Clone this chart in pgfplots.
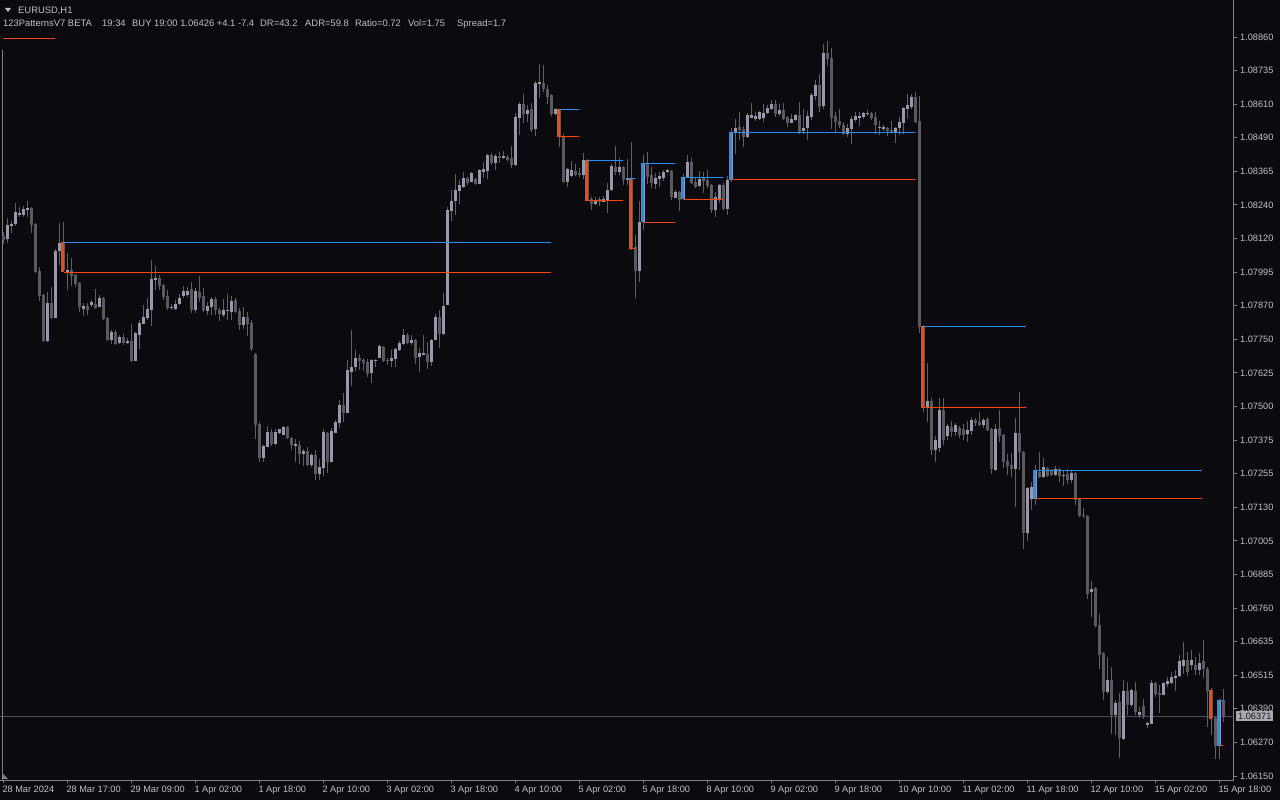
\documentclass[border=0pt]{standalone}
\usepackage{fontspec}
\setmainfont{Liberation Sans}
\usepackage{pgfplots}
\usepackage{pgfplotstable}
\pgfplotsset{compat=1.18}
\definecolor{bg}{RGB}{10,10,15}
\definecolor{axcol}{RGB}{128,128,136}
\definecolor{txt}{RGB}{192,192,198}
\definecolor{pline}{RGB}{78,78,84}
\definecolor{bullc}{RGB}{152,152,168}
\definecolor{bearc}{RGB}{90,90,94}
\definecolor{wickc}{RGB}{96,96,102}
\definecolor{ored}{RGB}{255,69,0}
\definecolor{dblue}{RGB}{30,144,255}
\definecolor{boxc}{RGB}{168,168,174}
\definecolor{boxt}{RGB}{28,28,34}

% candles: i = bar index, o h l c = screen rows (row 776 = 1.06150, 33.59 rows per 0.0012318)
\pgfplotstableread{
i o h l c
1 239 218 243 225
2 226 221 233 224
3 224 203 226 212
4 215 207 217 213
5 215 206 217 209
6 210 201 217 208
11 341 292 342 303
13 318 249 318 251
14 251 223 265 243
16 273 253 290 270
20 309 303 316 306
22 305 300 307 302
24 307 295 307 298
27 340 330 344 332
29 343 335 344 337
31 343 338 344 341
33 361 332 361 333
34 335 320 349 323
35 324 305 324 317
36 318 298 320 309
37 310 260 326 279
38 280 266 290 278
42 308 304 310 307
43 309 300 310 304
44 304 294 305 298
45 296 286 298 291
46 295 287 297 291
48 310 288 313 291
51 311 302 315 306
52 307 297 315 299
55 315 299 317 310
56 311 294 320 310
57 312 296 320 301
60 325 307 329 317
65 458 445 462 446
66 447 426 447 432
68 444 429 445 432
69 433 429 434 429
70 435 426 435 427
73 446 439 462 444
75 454 449 466 451
77 465 453 467 455
79 474 459 480 467
80 468 429 476 432
82 462 428 462 431
83 433 420 433 422
84 423 400 428 405
86 413 360 413 370
87 372 330 386 367
88 367 350 371 358
92 373 359 383 360
93 361 359 367 360
94 358 345 358 346
97 361 350 367 358
98 359 348 367 349
99 350 341 351 343
100 344 329 345 335
102 343 335 345 340
104 357 348 372 353
105 355 335 355 353
107 362 339 366 340
108 340 314 340 317
110 334 293 335 306
111 305 207 305 210
112 211 190 221 201
113 201 174 215 190
114 191 180 204 185
115 187 172 188 178
117 182 172 182 173
119 184 169 184 170
120 172 162 178 169
121 171 154 179 155
123 163 154 170 156
125 158 151 159 156
128 165 113 166 117
129 118 102 135 104
131 114 105 122 110
133 129 81 136 83
134 84 64 98 82
138 114 108 115 109
141 182 168 187 169
142 176 161 177 170
145 175 153 179 160
148 204 197 205 200
150 202 196 202 199
151 200 183 213 190
152 190 164 191 166
154 172 158 175 167
156 180 159 185 178
159 271 201 282 222
160 222 155 230 163
163 184 173 189 178
164 179 172 187 176
165 178 170 181 172
166 172 169 173 170
168 198 190 198 192
170 199 174 200 177
171 177 155 178 162
174 186 171 187 179
178 210 192 217 197
179 200 184 203 185
181 209 176 215 180
182 180 128 182 132
183 132 119 154 128
186 137 113 138 115
187 118 103 118 115
188 119 112 121 116
189 119 111 120 112
190 118 104 122 113
191 113 105 114 108
192 109 100 110 104
194 114 104 116 110
197 123 114 123 119
198 120 114 121 115
200 131 109 134 128
201 128 111 140 116
202 117 93 120 95
203 96 80 100 85
205 106 44 109 53
211 134 124 137 128
212 129 116 144 119
213 120 112 122 116
214 118 112 126 116
215 117 112 119 113
216 114 110 116 113
219 128 121 135 127
220 129 125 131 127
223 132 127 143 128
224 128 117 135 122
225 123 107 134 108
226 109 94 119 105
227 107 94 109 97
231 408 363 422 401
233 450 436 462 440
234 448 398 452 410
236 436 424 440 426
238 432 423 436 425
241 434 421 442 430
242 431 417 435 420
245 425 418 428 420
248 470 424 471 429
253 469 418 507 433
256 533 487 541 488
257 499 482 510 487
258 499 465 505 470
260 477 458 478 467
263 475 466 476 469
265 476 471 486 475
267 480 471 483 473
272 592 581 617 589
276 692 657 694 680
278 715 700 735 703
280 739 680 740 691
282 705 689 707 690
284 715 707 718 712
286 725 722 728 723
287 724 680 724 683
290 695 682 695 683
291 684 677 687 681
292 683 672 684 677
293 678 670 691 676
294 676 655 677 661
295 666 642 674 660
297 665 650 670 660
299 670 653 675 663
304 745 699 759 700
}\bulltab

\pgfplotstableread{
i o h l c
0 236 232 244 240
7 208 207 233 225
8 224 223 273 272
9 271 267 301 296
10 295 294 342 341
12 303 287 319 318
15 243 222 272 270
17 270 258 286 276
18 275 274 287 284
19 283 282 312 307
21 306 303 315 310
23 304 289 309 308
25 298 297 320 319
26 318 317 341 340
28 332 330 345 344
30 337 334 345 343
32 341 324 362 361
39 278 275 290 286
40 285 284 300 297
41 296 290 310 308
47 289 282 313 310
49 292 276 302 298
50 296 288 312 310
53 299 297 315 310
54 310 308 321 314
58 300 298 313 312
59 311 308 330 325
61 317 312 336 324
62 323 320 351 349
63 354 353 439 425
64 424 422 462 458
67 432 429 446 444
71 427 426 439 438
72 438 437 450 445
74 445 441 464 454
76 451 447 466 465
78 455 450 480 474
81 433 432 473 462
85 405 393 422 413
89 358 354 370 361
90 360 358 371 363
91 362 359 377 374
95 347 346 362 361
96 360 358 365 361
101 335 333 344 343
103 340 339 364 358
106 354 342 369 362
109 317 310 348 334
116 178 177 185 183
118 179 178 185 184
122 155 153 165 163
124 156 152 163 158
126 157 155 162 160
127 158 146 168 165
130 104 94 123 114
132 109 103 132 130
135 83 65 92 89
136 89 85 104 97
137 95 94 116 114
139 110 109 147 136
140 137 134 183 182
143 171 164 176 175
144 173 168 177 175
146 160 159 201 200
147 199 197 210 204
149 199 197 206 202
153 167 146 175 172
155 167 166 185 180
157 178 142 250 248
158 247 235 298 271
161 164 152 184 177
162 175 167 188 183
167 171 170 200 197
169 192 191 211 200
172 162 158 184 183
173 182 177 188 187
175 178 172 193 181
176 180 170 188 186
177 185 184 213 210
180 185 183 210 209
184 127 112 140 130
185 129 126 147 137
193 104 100 117 114
195 110 103 120 119
196 117 116 127 123
199 115 102 134 133
204 85 74 112 107
206 53 41 66 59
207 58 48 129 118
208 116 112 132 122
209 121 109 128 125
210 125 122 135 134
217 113 112 120 118
218 117 112 134 125
221 128 127 136 131
222 130 121 133 132
228 97 92 123 122
229 121 96 333 327
230 326 325 412 407
232 401 398 455 450
235 410 398 445 440
237 427 421 437 432
239 428 426 438 435
240 429 424 440 435
243 420 418 426 423
244 422 412 426 425
246 419 417 431 430
247 429 428 474 469
249 428 410 442 436
250 435 434 468 462
251 461 454 475 466
252 465 453 477 469
254 433 392 470 452
255 452 451 549 533
259 472 452 478 477
261 468 467 477 476
262 470 469 476 475
264 469 468 482 476
266 474 469 484 480
268 473 472 505 500
269 499 498 517 516
270 515 508 518 516
271 516 515 599 594
273 588 587 627 626
274 625 614 669 655
275 653 652 700 692
277 680 667 734 715
279 702 693 758 738
281 691 682 715 705
283 691 682 715 712
285 706 699 719 716
288 683 682 697 694
289 693 685 713 695
296 660 652 676 672
298 665 657 675 670
300 661 640 678 669
301 669 667 727 691
302 690 688 735 718
303 718 717 759 746
305 700 689 722 716
}\beartab

\begin{document}
\begin{tikzpicture}[x=1pt,y=1pt]
\useasboundingbox (0,0) rectangle (1280,800);
\fill[bg] (0,0) rectangle (1280,800);
\begin{axis}[
  at={(0pt,20pt)}, anchor=south west,
  width=1234pt, height=780pt, scale only axis,
  xmin=-0.8325, xmax=307.6675,
  ymin=0, ymax=780, y dir=reverse,
  axis x line*=bottom, axis y line*=right,
  axis line style={draw=axcol, line width=1pt},
  tick align=outside, major tick length=3pt,
  tick style={draw=axcol, line width=1pt},
  xtick={0,16,...,304},
  xticklabels={28 Mar 2024,28 Mar 17:00,29 Mar 09:00,1 Apr 02:00,1 Apr 18:00,2 Apr 10:00,3 Apr 02:00,3 Apr 18:00,4 Apr 10:00,5 Apr 02:00,5 Apr 18:00,8 Apr 10:00,9 Apr 02:00,9 Apr 18:00,10 Apr 10:00,11 Apr 02:00,11 Apr 18:00,12 Apr 10:00,15 Apr 02:00,15 Apr 18:00},
  ytick={776,742.41,708.82,675.23,641.64,608.05,574.46,540.87,507.28,473.69,440.10,406.51,372.92,339.33,305.74,272.15,238.56,204.97,171.38,137.79,104.20,70.61,37.02},
  yticklabels={1.06150,1.06270,1.06390,1.06515,1.06635,1.06760,1.06885,1.07005,1.07130,1.07255,1.07375,1.07500,1.07625,1.07750,1.07870,1.07995,1.08120,1.08240,1.08365,1.08490,1.08610,1.08735,1.08860},
  every tick label/.append style={font=\fontsize{9.2}{11}\selectfont, text=txt},
  xticklabel style={anchor=north west, inner sep=0pt, xshift=-1pt, yshift=-3pt},
  yticklabel style={anchor=west, inner sep=0pt, xshift=3pt},
  hl/.style={line width=1pt},
  vb/.style={line width=3.4pt},
]
% last price line
\addplot[pline, line width=1pt] coordinates {(-0.8325,716) (307.6675,716)};
% left edge marker line
\addplot[axcol, line width=0.8pt] coordinates {(-0.26,50) (-0.26,780)};
% wicks
\addplot[draw=wickc, line width=1pt, quiver={u=0, v=\thisrow{l}-\thisrow{h}}] table[x=i, y=h] {\bulltab};
\addplot[draw=wickc, line width=1pt, quiver={u=0, v=\thisrow{l}-\thisrow{h}}] table[x=i, y=h] {\beartab};
% bodies
\addplot[draw=bullc, line width=3pt, quiver={u=0, v=\thisrow{c}-\thisrow{o}}] table[x=i, y=o] {\bulltab};
\addplot[draw=bearc, line width=3pt, quiver={u=0, v=\thisrow{c}-\thisrow{o}}] table[x=i, y=o] {\beartab};
% pattern indicator: vertical bars and levels
\addplot[ored, hl] coordinates {(-0.16,39) (12.9,39)};
\addplot[ored, vb] coordinates {(14.83,242) (14.83,272)};
\addplot[dblue, hl] coordinates {(15.25,242.3) (136.9,242.3)};
\addplot[ored, hl] coordinates {(15.25,272) (136.9,272)};
\addplot[ored, vb] coordinates {(138.83,109) (138.83,136.7)};
\addplot[dblue, hl] coordinates {(139.25,109.3) (143.9,109.3)};
\addplot[ored, hl] coordinates {(139.25,136.3) (143.9,136.3)};
\addplot[ored, vb] coordinates {(145.83,160) (145.83,200.7)};
\addplot[dblue, hl] coordinates {(146.25,160.3) (154.8,160.3)};
\addplot[ored, hl] coordinates {(146.25,200.3) (154.8,200.3)};
\addplot[ored, vb] coordinates {(156.83,178.3) (156.83,248.7)};
\addplot[dblue, hl] coordinates {(155.7,178.3) (157.9,178.3)};
\addplot[ored, hl] coordinates {(157.25,248.3) (157.9,248.3)};
\addplot[dblue, vb] coordinates {(159.83,163.3) (159.83,222.3)};
\addplot[dblue, hl] coordinates {(160.25,163.3) (167.9,163.3)};
\addplot[ored, hl] coordinates {(160.25,222.3) (167.9,222.3)};
\addplot[dblue, vb] coordinates {(169.83,177.3) (169.83,199.3)};
\addplot[dblue, hl] coordinates {(170.25,177.3) (179.8,177.3)};
\addplot[ored, hl] coordinates {(170.25,199.3) (179.8,199.3)};
\addplot[dblue, vb] coordinates {(181.83,132) (181.83,180)};
\addplot[dblue, hl] coordinates {(182.25,132.3) (227.9,132.3)};
\addplot[ored, hl] coordinates {(182.25,179.3) (227.9,179.3)};
\addplot[ored, vb] coordinates {(229.83,326) (229.83,407.7)};
\addplot[dblue, hl] coordinates {(230.25,326) (255.7,326)};
\addplot[ored, hl] coordinates {(230.25,407.3) (255.7,407.3)};
\addplot[dblue, vb] coordinates {(257.83,470) (257.83,499)};
\addplot[dblue, hl] coordinates {(258.25,470.3) (299.7,470.3)};
\addplot[ored, hl] coordinates {(258.25,498.3) (299.7,498.3)};
\addplot[ored, vb] coordinates {(301.83,690) (301.83,718.7)};
\addplot[dblue, vb] coordinates {(303.83,700) (303.83,745.7)};
\addplot[dblue, hl] coordinates {(304.25,700) (304.9,700)};
\addplot[ored, hl] coordinates {(304.25,745.7) (304.9,745.7)};
\coordinate (pl) at (axis cs:307.6675,716);
\end{axis}
% current price label
\node[anchor=west, fill=boxc, text=boxt, inner xsep=2pt, inner ysep=0pt, minimum height=10pt,
      font=\fontsize{9.2}{11}\selectfont] at ([xshift=2pt]pl) {1.06371};
% scroll marker bottom-left
\fill[axcol] (2,27) -- (2,21) -- (8,21) -- cycle;
% header
\fill[txt] (5,792) -- (11,792) -- (8,788) -- cycle;
\begin{scope}[every node/.style={anchor=base west, inner sep=0pt, text=txt, font=\fontsize{9.4}{11}\selectfont}]
\node at (18,786) {EURUSD,H1};
\node at (3,773) {123PatternsV7 BETA};
\node at (102,773) {19:34};
\node at (132,773) {BUY 19:00 1.06426 +4.1 -7.4};
\node at (260,773) {DR=43.2};
\node at (305,773) {ADR=59.8};
\node at (355,773) {Ratio=0.72};
\node at (408,773) {Vol=1.75};
\node at (457,773) {Spread=1.7};
\end{scope}
\end{tikzpicture}
\end{document}
